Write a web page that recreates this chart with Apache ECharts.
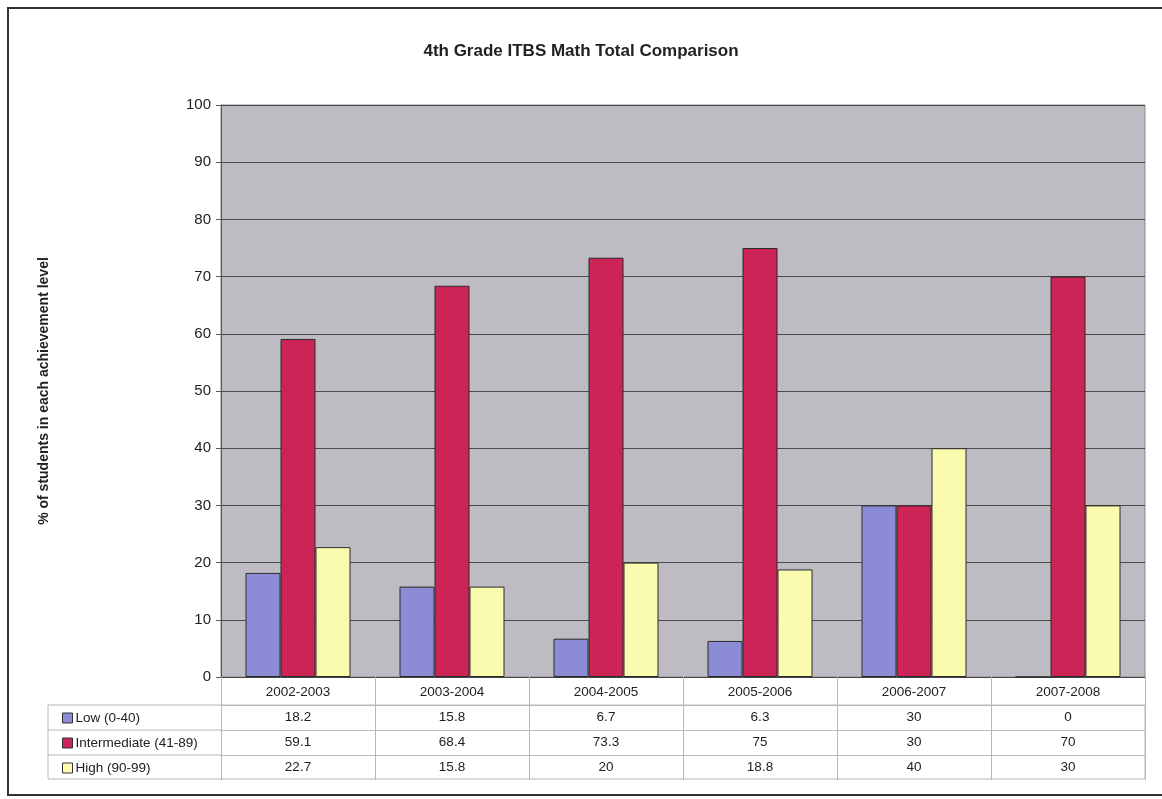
<!DOCTYPE html>
<html>
<head>
<meta charset="utf-8">
<script src="https://cdn.jsdelivr.net/npm/echarts@6/dist/echarts.min.js"></script>
<style>
  html, body { margin: 0; padding: 0; background: #fff; }
  #chart { width: 1162px; height: 799px; }
</style>
</head>
<body>
<div id="chart"></div>
<script>
const categories = ['2002-2003', '2003-2004', '2004-2005', '2005-2006', '2006-2007', '2007-2008'];
const seriesNames = ['Low (0-40)', 'Intermediate (41-89)', 'High (90-99)'];
const lowValues = [18.2, 15.8, 6.7, 6.3, 30, 0];
const intermediateValues = [59.1, 68.4, 73.3, 75, 30, 70];
const highValues = [22.7, 15.8, 20, 18.8, 40, 30];
const colors = ['#8c8cd6', '#cc2457', '#fbfbb0'];

const chartDom = document.getElementById('chart');
const myChart = echarts.init(chartDom);

const font = 'Liberation Sans, Arial, sans-serif';
const tableLine = '#b8b8b8';
const rowHeight = 25;
const headerHeight = 28;

// one category axis per table row, stacked under the plot
const rowAxis = (vals, idx) => ({
  type: 'category',
  gridIndex: 0,
  position: 'bottom',
  offset: headerHeight + rowHeight * idx,
  data: vals.map(String),
  axisLine: { show: true, lineStyle: { color: tableLine, width: 1 } },
  axisTick: { show: false },
  axisLabel: { margin: 5, fontSize: 13.5, color: '#222', fontFamily: font, interval: 0 },
  splitLine: { show: false },
});

const allValues = [lowValues, intermediateValues, highValues];

const option = {
  animation: false,
  color: colors,
  title: {
    text: '4th Grade ITBS Math Total Comparison',
    left: 'center',
    top: 38,
    textStyle: { fontSize: 17, fontWeight: 'bold', color: '#222', fontFamily: font },
  },
  legend: {
    orient: 'vertical',
    left: 57,
    top: 706,
    itemGap: 11,
    itemWidth: 10,
    itemHeight: 10,
    icon: 'rect',
    itemStyle: { borderColor: '#333', borderWidth: 1 },
    textStyle: { fontSize: 13.5, color: '#222', fontFamily: font, padding: [0, 0, 0, -2] },
    data: seriesNames,
  },
  grid: {
    left: 221,
    right: 17,
    top: 105,
    bottom: 122,
    show: true,
    backgroundColor: '#bfbbc2',
    borderColor: '#888',
    borderWidth: 1,
  },
  xAxis: [
    {
      type: 'category',
      data: categories,
      axisLine: { show: true, lineStyle: { color: '#444' } },
      axisTick: {
        show: true,
        inside: false,
        length: headerHeight + rowHeight * 3,
        lineStyle: { color: tableLine },
      },
      axisLabel: { margin: 8, fontSize: 13.5, color: '#222', fontFamily: font, interval: 0 },
    },
    ...allValues.map((v, i) => rowAxis(v, i)),
  ],
  yAxis: {
    type: 'value',
    min: 0,
    max: 100,
    interval: 10,
    name: '% of students in each achievement level',
    nameLocation: 'middle',
    nameGap: 170,
    nameTextStyle: { fontSize: 14, fontWeight: 'bold', color: '#222', fontFamily: font },
    axisLine: { show: true, lineStyle: { color: '#555' } },
    axisTick: { show: true, length: 5, lineStyle: { color: '#555' } },
    axisLabel: { fontSize: 15, color: '#222', fontFamily: font, margin: 10 },
    splitLine: { show: true, lineStyle: { color: '#4a4a4a', width: 1 } },
  },
  series: seriesNames.map((name, i) => ({
    name: name,
    type: 'bar',
    xAxisIndex: 0,
    barWidth: 35,
    barGap: '0%',
    itemStyle: { color: colors[i], borderColor: '#2a2a2a', borderWidth: 1 },
    data: allValues[i],
  })),
  graphic: [
    // outer frame
    { type: 'rect', shape: { x: 8, y: 8, width: 1162, height: 787 }, style: { fill: 'none', stroke: '#333', lineWidth: 2 } },
    // data table outline and the legend column rows
    { type: 'rect', shape: { x: 48, y: 705, width: 1097, height: 74 }, style: { fill: 'none', stroke: tableLine, lineWidth: 1 } },
    { type: 'line', shape: { x1: 48, y1: 730, x2: 221, y2: 730 }, style: { stroke: tableLine, lineWidth: 1 } },
    { type: 'line', shape: { x1: 48, y1: 755, x2: 221, y2: 755 }, style: { stroke: tableLine, lineWidth: 1 } },
  ],
};

myChart.setOption(option);
</script>
</body>
</html>
